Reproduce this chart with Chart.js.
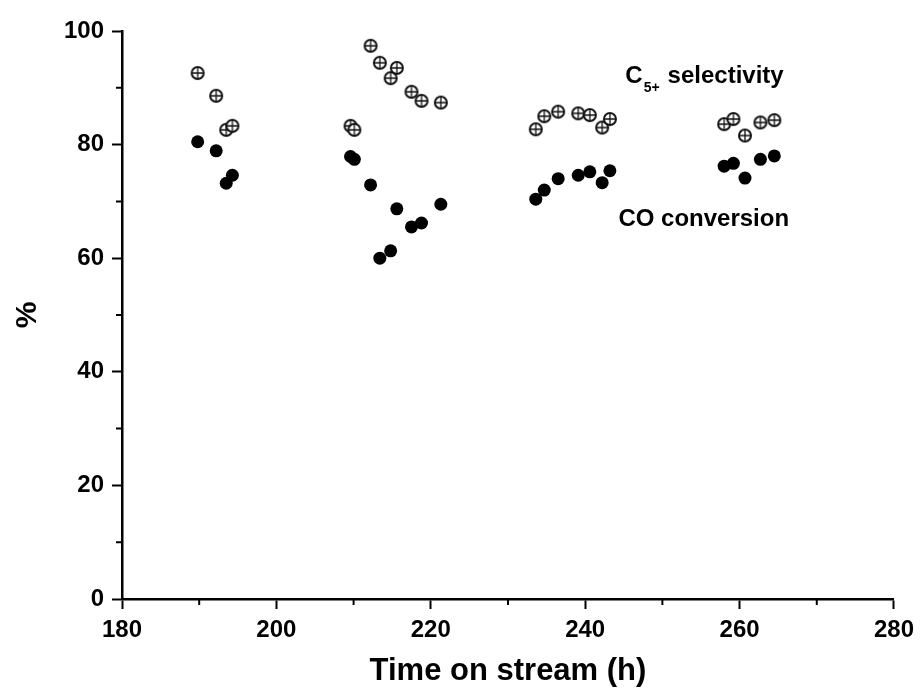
<!DOCTYPE html>
<html>
<head>
<meta charset="utf-8">
<script src="https://cdn.jsdelivr.net/npm/chart.js@4.4.1/dist/chart.umd.min.js"></script>
<style>
  body { margin: 0; background: #fff; }
  #wrap { width: 921px; height: 691px; }
</style>
</head>
<body>
<div id="wrap"><canvas id="streamChart" width="921" height="691"></canvas></div>
<script>
// hours on stream, shared by both series
const timeOnStream = [189.8, 192.2, 193.5, 194.3,
  209.6, 210.1, 212.2, 213.4, 214.8, 215.6, 217.5, 218.8, 221.3,
  233.6, 234.7, 236.5, 239.1, 240.6, 242.2, 243.2,
  258.0, 259.2, 260.7, 262.7, 264.5];
const c5Selectivity = [92.6, 88.6, 82.6, 83.3,
  83.3, 82.6, 97.4, 94.4, 91.7, 93.5, 89.3, 87.7, 87.4,
  82.7, 85.0, 85.8, 85.5, 85.2, 83.0, 84.5,
  83.6, 84.5, 81.6, 83.9, 84.3];
const coConversion = [80.5, 78.9, 73.2, 74.6,
  77.9, 77.4, 72.9, 60.0, 61.3, 68.7, 65.5, 66.2, 69.5,
  70.4, 72.0, 74.0, 74.6, 75.2, 73.3, 75.4,
  76.2, 76.7, 74.1, 77.4, 78.0];
const xTicks = [180, 200, 220, 240, 260, 280];
const yTicks = [0, 20, 40, 60, 80, 100];

const FONT = "'Liberation Sans', Arial, sans-serif";

// open circle with a cross through it
function crossedCircle() {
  const c = document.createElement('canvas');
  c.width = 16; c.height = 16;
  const g = c.getContext('2d');
  g.fillStyle = '#fff';
  g.strokeStyle = '#111';
  g.lineWidth = 2;
  g.beginPath(); g.arc(8, 8, 6, 0, Math.PI * 2); g.fill(); g.stroke();
  g.lineWidth = 1.3;
  g.beginPath();
  g.moveTo(2, 8); g.lineTo(14, 8);
  g.moveTo(8, 2); g.lineTo(8, 14);
  g.stroke();
  return c;
}

// short ticks halfway between the labelled ones
const minorTicks = {
  id: 'minorTicks',
  afterDraw(chart) {
    const ctx = chart.ctx;
    ctx.save();
    ctx.strokeStyle = '#000';
    ctx.lineWidth = 2;
    const xs = chart.scales.x, ys = chart.scales.y;
    ctx.beginPath();
    for (let i = 0; i < xTicks.length - 1; i++) {
      const px = xs.getPixelForValue((xTicks[i] + xTicks[i + 1]) / 2);
      ctx.moveTo(px, ys.bottom); ctx.lineTo(px, ys.bottom + 6);
    }
    for (let i = 0; i < yTicks.length - 1; i++) {
      const py = ys.getPixelForValue((yTicks[i] + yTicks[i + 1]) / 2);
      ctx.moveTo(xs.left, py); ctx.lineTo(xs.left - 6, py);
    }
    ctx.stroke();
    ctx.restore();
  }
};

// series names written next to the points
const seriesLabels = {
  id: 'seriesLabels',
  afterDraw(chart) {
    const ctx = chart.ctx;
    const xs = chart.scales.x, ys = chart.scales.y;
    ctx.save();
    ctx.fillStyle = '#000';
    ctx.textBaseline = 'alphabetic';
    ctx.textAlign = 'left';

    let x = xs.getPixelForValue(245.2);
    let y = ys.getPixelForValue(90.8);
    ctx.font = 'bold 24px ' + FONT;
    ctx.fillText('C', x, y);
    x += ctx.measureText('C').width + 1;
    ctx.font = 'bold 14px ' + FONT;
    ctx.fillText('5+', x, y + 9);
    x += ctx.measureText('5+').width + 8;
    ctx.font = 'bold 24px ' + FONT;
    ctx.fillText('selectivity', x, y);

    ctx.fillText('CO conversion', xs.getPixelForValue(244.3), ys.getPixelForValue(65.7));
    ctx.restore();
  }
};

const ctx = document.getElementById('streamChart').getContext('2d');

new Chart(ctx, {
  type: 'scatter',
  data: {
    datasets: [
      {
        label: 'CO conversion',
        data: timeOnStream.map((t, i) => ({ x: t, y: coConversion[i] })),
        pointStyle: 'circle',
        pointRadius: 6.5,
        backgroundColor: '#000',
        borderColor: '#000',
        borderWidth: 0,
      },
      {
        label: 'C5+ selectivity',
        data: timeOnStream.map((t, i) => ({ x: t, y: c5Selectivity[i] })),
        pointStyle: crossedCircle(),
      },
    ],
  },
  options: {
    responsive: false,
    animation: false,
    layout: { padding: { top: 31, right: 24, left: 0, bottom: 0 } },
    plugins: {
      legend: { display: false },
      tooltip: { enabled: false },
    },
    scales: {
      x: {
        type: 'linear',
        min: 180,
        max: 280,
        afterBuildTicks: s => { s.ticks = xTicks.map(v => ({ value: v })); },
        afterFit: s => { s.height = 92; },
        border: { display: true, color: '#000', width: 2.5 },
        grid: { drawOnChartArea: false, drawTicks: true, tickLength: 10, tickColor: '#000', tickWidth: 2 },
        ticks: { color: '#000', padding: 7, maxRotation: 0, font: { family: FONT, size: 24, weight: 'bold' } },
        title: {
          display: true,
          text: 'Time on stream (h)',
          color: '#000',
          padding: { top: 0, bottom: 1 },
          font: { family: FONT, size: 31, weight: 'bold' },
        },
      },
      y: {
        type: 'linear',
        min: 0,
        max: 100,
        afterBuildTicks: s => { s.ticks = yTicks.map(v => ({ value: v })); },
        afterFit: s => { s.width = 122; },
        border: { display: true, color: '#000', width: 2.5 },
        grid: { drawOnChartArea: false, drawTicks: true, tickLength: 10, tickColor: '#000', tickWidth: 2 },
        ticks: { color: '#000', padding: 8, font: { family: FONT, size: 24, weight: 'bold' } },
        title: {
          display: true,
          text: '%',
          color: '#000',
          padding: { top: 10, bottom: 0 },
          font: { family: FONT, size: 30, weight: 'bold' },
        },
      },
    },
  },
  plugins: [minorTicks, seriesLabels],
});
</script>
</body>
</html>
